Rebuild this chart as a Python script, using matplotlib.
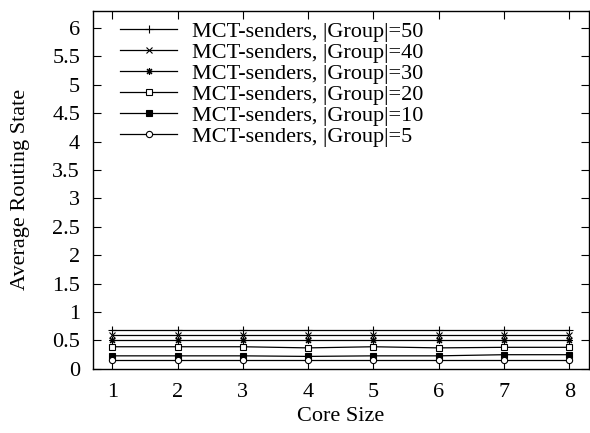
import matplotlib.pyplot as plt
from matplotlib.ticker import FormatStrFormatter, MultipleLocator

plt.rcParams["font.family"] = ["Liberation Serif", "DejaVu Serif"]
plt.rcParams["font.size"] = 16

core_size = [1, 2, 3, 4, 5, 6, 7, 8]
group_sizes = [50, 40, 30, 20, 10, 5]

# average routing state per group size
state_g50 = [0.68, 0.68, 0.68, 0.68, 0.68, 0.68, 0.68, 0.68]
state_g40 = [0.59, 0.59, 0.59, 0.59, 0.59, 0.59, 0.59, 0.59]
state_g30 = [0.50, 0.50, 0.50, 0.50, 0.50, 0.50, 0.50, 0.50]
state_g20 = [0.39, 0.39, 0.39, 0.37, 0.39, 0.37, 0.38, 0.38]
state_g10 = [0.23, 0.23, 0.23, 0.22, 0.23, 0.23, 0.25, 0.25]
state_g5 = [0.16, 0.16, 0.16, 0.16, 0.16, 0.16, 0.16, 0.16]

series = [state_g50, state_g40, state_g30, state_g20, state_g10, state_g5]
markers = [
    dict(marker="+", ms=6, mfc="black"),
    dict(marker="x", ms=4.5, mfc="black"),
    dict(marker=(8, 2, 0), ms=5, mfc="black"),
    dict(marker="s", ms=4.5, mfc="white"),
    dict(marker="s", ms=5, mfc="black"),
    dict(marker="o", ms=4.5, mfc="white"),
]

fig = plt.figure(figsize=(5.9, 4.33), dpi=100)
ax = fig.add_axes((0.157, 0.148, 0.841, 0.827))

for g, vals, mk in zip(group_sizes, series, markers):
    ax.plot(core_size, vals, color="black", lw=0.9, mec="black", mew=0.8,
            label=f"MCT-senders, |Group|={g}", **mk)

ax.set_xlim(0.7, 8.3)
ax.set_ylim(0, 6.3)
ax.xaxis.set_major_locator(MultipleLocator(1))
ax.yaxis.set_major_locator(MultipleLocator(0.5))
ax.yaxis.set_major_formatter(FormatStrFormatter("%g"))
ax.tick_params(direction="in", length=6, width=0.8, top=True, right=True,
               labelsize=16)
ax.tick_params(axis="y", pad=9)
ax.tick_params(axis="x", pad=10)
for s in ax.spines.values():
    s.set_linewidth(1.0)

ax.set_xlabel("Core Size", labelpad=4)
ax.set_ylabel("Average Routing State", labelpad=16)

ax.legend(loc="upper left", bbox_to_anchor=(0.038, 0.995), frameon=False,
          handlelength=2.57, handletextpad=0.65, labelspacing=0.02,
          borderaxespad=0.2, borderpad=0.2)

fig.savefig("out.png", dpi=100)
